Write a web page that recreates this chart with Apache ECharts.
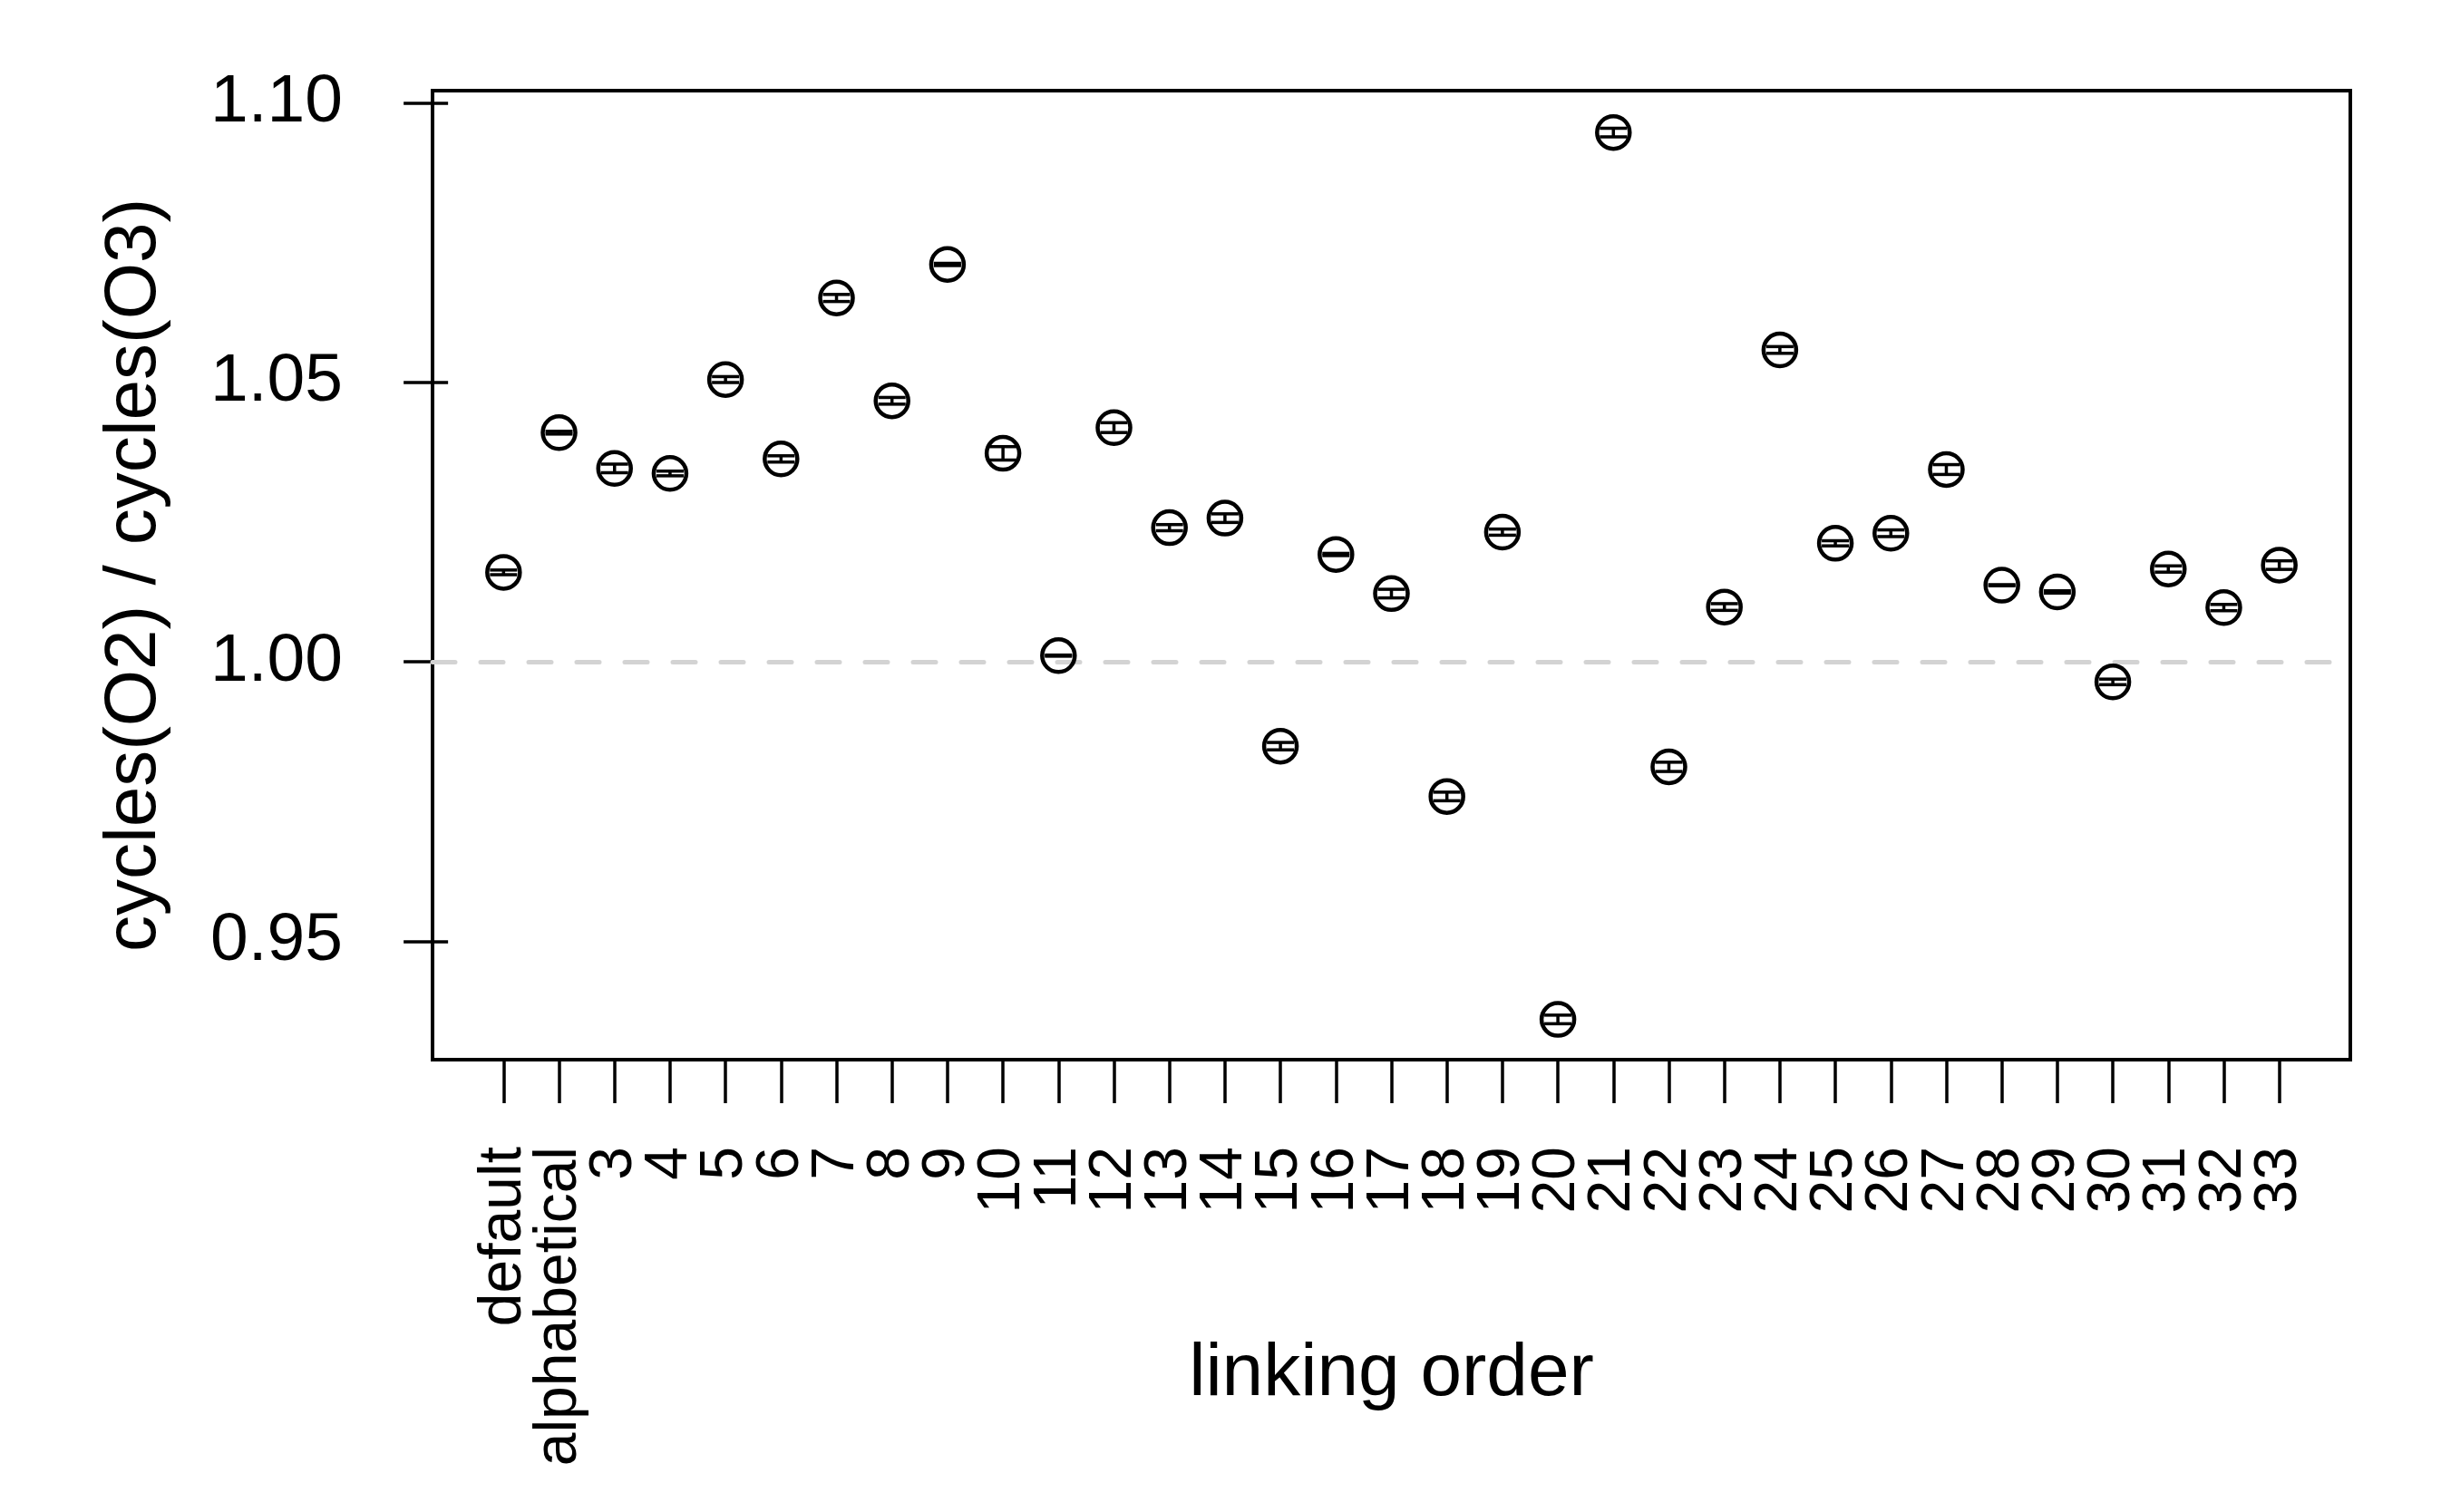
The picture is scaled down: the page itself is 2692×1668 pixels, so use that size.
<!DOCTYPE html>
<html>
<head>
<meta charset="utf-8">
<script src="https://cdn.jsdelivr.net/npm/echarts@6/dist/echarts.min.js"></script>
<style>
  html, body { margin: 0; padding: 0; background: #fff; }
  #main { width: 2692px; height: 1668px; }
</style>
</head>
<body>
<div id="main"></div>
<script>
var orders = ['default', 'alphabetical', '3', '4', '5', '6', '7', '8', '9', '10',
    '11', '12', '13', '14', '15', '16', '17', '18', '19', '20', '21', '22',
    '23', '24', '25', '26', '27', '28', '29', '30', '31', '32', '33']

// cycles(O2) / cycles(O3)
var ratios = [1.0160, 1.0410, 1.0346, 1.0337, 1.0505, 1.0363, 1.0651, 1.0467, 1.0711, 1.0373,
    1.0011, 1.0419, 1.0240, 1.0257, 0.9849, 1.0192, 1.0122, 0.9759, 1.0232, 0.9360,
    1.0947, 0.9812, 1.0098, 1.0558, 1.0212, 1.0230, 1.0344, 1.0137, 1.0125, 0.9964,
    1.0166, 1.0097, 1.0173]

// half height of the error bars
var errs = [0.00042, 0.00025, 0.00077, 0.00042, 0.00053, 0.00056, 0.00063, 0.0006, 0.0002, 0.0012,
    0.0001, 0.00088, 0.00055, 0.00077, 0.00066, 0.0002, 0.00077, 0.00077, 0.00055, 0.00077,
    0.00077, 0.00083, 0.0006, 0.0006, 0.00046, 0.0006, 0.00088, 0.0001, 0.0002, 0.0005,
    0.00056, 0.00056, 0.00077]

var yTicks = [0.95, 1.00, 1.05, 1.10]

var font = 'Liberation Sans, Arial, Helvetica, sans-serif'

var points = []
for (var i = 0; i < orders.length; i++) {
    points.push([i + 1, ratios[i], errs[i]])
}

// plot box and x range (R style: 4% padding each side)
var W = 2692, H = 1668
var boxL = 477, boxR = 100, boxT = 100, boxB = 499
var xMin = 1 - 0.04 * (orders.length - 1), xMax = orders.length + 0.04 * (orders.length - 1)
var unit = (W - boxL - boxR) / (xMax - xMin)
// second grid holding the category axis so every label lines up with its point
var catL = boxL + (1 - xMin) * unit - unit / 2
var catW = orders.length * unit

function draw_point(params, api) {
    var x = api.value(0), y = api.value(1), e = api.value(2)
    var c = api.coord([x, y])
    var lo = api.coord([x, y - e])[1]
    var hi = api.coord([x, y + e])[1]
    var hw = 15
    var st = { stroke: '#000', lineWidth: 3.5, fill: null }
    return {
        type: 'group',
        children: [
            { type: 'circle', shape: { cx: c[0], cy: c[1], r: 18 }, style: { fill: null, stroke: '#000', lineWidth: 4.5 } },
            { type: 'line', shape: { x1: c[0], y1: lo, x2: c[0], y2: hi }, style: st },
            { type: 'line', shape: { x1: c[0] - hw, y1: lo, x2: c[0] + hw, y2: lo }, style: st },
            { type: 'line', shape: { x1: c[0] - hw, y1: hi, x2: c[0] + hw, y2: hi }, style: st }
        ]
    }
}

var myChart = echarts.init(document.getElementById('main'), null, { renderer: 'canvas' })
var option = {
    backgroundColor: '#fff',
    animation: false,
    grid: [
        {
            left: boxL,
            right: boxR,
            top: boxT,
            bottom: boxB,
            outerBoundsMode: 'none',
            containLabel: false,
            show: true,
            borderColor: '#000',
            borderWidth: 4,
            backgroundColor: 'transparent'
        },
        {
            left: catL,
            width: catW,
            top: boxT,
            bottom: boxB,
            outerBoundsMode: 'none',
            containLabel: false,
            show: false
        }
    ],
    xAxis: [
        {
            type: 'value',
            gridIndex: 0,
            min: xMin,
            max: xMax,
            name: 'linking order',
            nameLocation: 'middle',
            nameGap: 306,
            nameTextStyle: { fontFamily: font, fontSize: 82, color: '#000' },
            axisLine: { show: false },
            axisTick: { show: false },
            axisLabel: { show: false },
            splitLine: { show: false }
        },
        {
            type: 'category',
            gridIndex: 1,
            data: orders,
            boundaryGap: true,
            axisLine: { show: false },
            splitLine: { show: false },
            axisTick: {
                show: true,
                alignWithLabel: true,
                interval: 0,
                length: 48,
                lineStyle: { color: '#000', width: 3.5 }
            },
            axisLabel: {
                interval: 0,
                rotate: 90,
                margin: 96,
                fontFamily: font,
                fontSize: 66,
                color: '#000'
            }
        }
    ],
    yAxis: [
        {
            type: 'value',
            gridIndex: 0,
            min: 0.9288,
            max: 1.1022,
            name: 'cycles(O2) / cycles(O3)',
            nameLocation: 'middle',
            nameRotate: 90,
            nameGap: 288,
            nameTextStyle: { fontFamily: font, fontSize: 80, color: '#000' },
            axisLine: { show: false },
            splitLine: { show: false },
            axisTick: {
                show: true,
                customValues: yTicks,
                length: 49,
                lineStyle: { color: '#000', width: 3.5 }
            },
            axisLabel: {
                customValues: yTicks,
                margin: 99,
                fontFamily: font,
                fontSize: 75,
                color: '#000',
                formatter: function (v) {
                    return v.toFixed(2)
                }
            }
        },
        {
            type: 'value',
            gridIndex: 1,
            show: false
        }
    ],
    series: [
        {
            // reference line at 1.00
            type: 'line',
            data: [],
            z: 1,
            markLine: {
                silent: true,
                symbol: 'none',
                label: { show: false },
                lineStyle: { color: '#d3d3d3', width: 5, type: [25, 28], cap: 'round' },
                data: [{ yAxis: 1 }]
            }
        },
        {
            type: 'custom',
            z: 5,
            data: points,
            renderItem: draw_point
        }
    ]
}
myChart.setOption(option)
</script>
</body>
</html>
